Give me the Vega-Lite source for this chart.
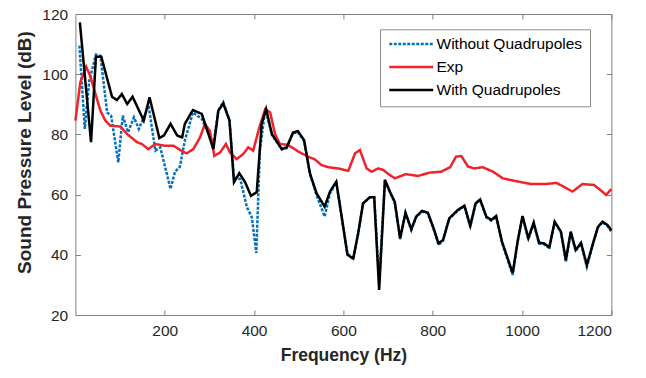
{
  "$schema": "https://vega.github.io/schema/vega-lite/v6.json",
  "width": 536,
  "height": 301,
  "autosize": {"type": "none"},
  "padding": {"left": 75.4, "top": 14, "right": 34.6, "bottom": 63},
  "background": "white",
  "config": {"view": {"stroke": null}, "font": "Liberation Sans"},
  "datasets": {
    "w": [
      {"f":9,"db":109.5},{"f":21,"db":81.8},{"f":31,"db":97.8},{"f":46,"db":106.5},{"f":56,"db":106.1},{"f":71,"db":87.3},{"f":80,"db":86.2},{"f":96,"db":70.7},{"f":106,"db":86.2},{"f":118,"db":80.7},{"f":131,"db":85.7},{"f":142,"db":81.8},{"f":164,"db":89.5},{"f":179,"db":74.6},{"f":190,"db":75.7},{"f":213,"db":61.9},{"f":223,"db":67.6},{"f":234,"db":69.3},{"f":245,"db":77.9},{"f":263,"db":87.3},{"f":283,"db":85.1},{"f":309,"db":76.8},{"f":320,"db":87.9},{"f":331,"db":90.7},{"f":345,"db":84.6},{"f":355,"db":65.7},{"f":369,"db":65.2},{"f":384,"db":55.8},{"f":395,"db":52.5},{"f":405,"db":40.6},{"f":413,"db":74.6},{"f":425,"db":88.4},{"f":440,"db":79.8},{"f":462,"db":75.1},{"f":473,"db":75.4},{"f":487,"db":80.3},{"f":498,"db":80.8},{"f":512,"db":77.8},{"f":525,"db":66.8},{"f":540,"db":59.8},{"f":558,"db":52.7},{"f":570,"db":60.5},{"f":584,"db":64},{"f":595,"db":53.5},{"f":609,"db":40.5},{"f":622,"db":38.5},{"f":633,"db":47},{"f":644,"db":57},{"f":659,"db":59},{"f":669,"db":59},{"f":680,"db":31},{"f":693,"db":64.8},{"f":704,"db":60.8},{"f":715,"db":57.3},{"f":727,"db":45.2},{"f":739,"db":53.8},{"f":752,"db":48.2},{"f":763,"db":52.5},{"f":776,"db":54.4},{"f":789,"db":53.8},{"f":802,"db":48.5},{"f":813,"db":43.3},{"f":823,"db":44.7},{"f":837,"db":52},{"f":856,"db":54.6},{"f":871,"db":56.2},{"f":884,"db":49.3},{"f":896,"db":57},{"f":906,"db":58.2},{"f":920,"db":52.4},{"f":931,"db":51.3},{"f":942,"db":52.6},{"f":955,"db":44},{"f":979,"db":33.3},{"f":990,"db":44.2},{"f":1001,"db":52.7},{"f":1014,"db":45.2},{"f":1026,"db":50.5},{"f":1038,"db":43.7},{"f":1049,"db":43.5},{"f":1061,"db":42.2},{"f":1073,"db":50.8},{"f":1087,"db":47.5},{"f":1098,"db":37.6},{"f":1109,"db":47.5},{"f":1120,"db":41.3},{"f":1132,"db":43.7},{"f":1145,"db":36},{"f":1160,"db":44.2},{"f":1170,"db":49.1},{"f":1180,"db":50.8},{"f":1191,"db":49.6},{"f":1200,"db":47.6}
    ],
    "e": [
      {"f":0,"db":84.6},{"f":11,"db":97.3},{"f":24,"db":102.5},{"f":33,"db":99.5},{"f":45,"db":93.4},{"f":56,"db":87.9},{"f":67,"db":84.6},{"f":78,"db":82.9},{"f":101,"db":82.6},{"f":116,"db":80.1},{"f":138,"db":77.4},{"f":149,"db":76.8},{"f":163,"db":75.1},{"f":179,"db":76.8},{"f":201,"db":76.2},{"f":220,"db":76.2},{"f":239,"db":74.4},{"f":249,"db":73.7},{"f":264,"db":75.1},{"f":279,"db":79},{"f":290,"db":83.5},{"f":301,"db":81.2},{"f":311,"db":72.9},{"f":324,"db":74},{"f":337,"db":76.8},{"f":346,"db":74},{"f":361,"db":71.8},{"f":376,"db":73.5},{"f":387,"db":75.7},{"f":398,"db":74.6},{"f":412,"db":82.4},{"f":425,"db":88.4},{"f":436,"db":87.3},{"f":447,"db":80.1},{"f":458,"db":76.8},{"f":473,"db":76.6},{"f":487,"db":75.5},{"f":499,"db":74.3},{"f":521,"db":72.6},{"f":536,"db":71.7},{"f":551,"db":69.8},{"f":566,"db":69.1},{"f":588,"db":68.7},{"f":611,"db":67.9},{"f":626,"db":73.7},{"f":637,"db":74.8},{"f":652,"db":68.7},{"f":663,"db":67.6},{"f":678,"db":68.7},{"f":689,"db":68.2},{"f":704,"db":66.5},{"f":715,"db":65.4},{"f":740,"db":66.8},{"f":767,"db":66.2},{"f":793,"db":67.3},{"f":819,"db":67.6},{"f":839,"db":69.1},{"f":852,"db":72.6},{"f":864,"db":72.8},{"f":879,"db":69.3},{"f":893,"db":68.7},{"f":912,"db":69.1},{"f":935,"db":67.6},{"f":957,"db":65.4},{"f":982,"db":64.6},{"f":1020,"db":63.5},{"f":1053,"db":63.5},{"f":1076,"db":63.9},{"f":1090,"db":62.9},{"f":1113,"db":61},{"f":1135,"db":63.5},{"f":1161,"db":63.2},{"f":1173,"db":61.8},{"f":1188,"db":59.9},{"f":1200,"db":61.8}
    ],
    "q": [
      {"f":10,"db":117.2},{"f":35,"db":77.4},{"f":46,"db":105.8},{"f":58,"db":105.8},{"f":82,"db":92.5},{"f":93,"db":91.4},{"f":104,"db":93.4},{"f":116,"db":90.1},{"f":128,"db":92.5},{"f":153,"db":84.6},{"f":166,"db":92.3},{"f":188,"db":78.8},{"f":198,"db":79.6},{"f":213,"db":83.5},{"f":228,"db":79.6},{"f":239,"db":79},{"f":245,"db":83.5},{"f":263,"db":88.1},{"f":283,"db":86.8},{"f":309,"db":75.1},{"f":320,"db":87.9},{"f":331,"db":90.3},{"f":345,"db":84.6},{"f":355,"db":64.1},{"f":367,"db":67.1},{"f":380,"db":64.1},{"f":393,"db":59.6},{"f":406,"db":60.8},{"f":417,"db":83.5},{"f":427,"db":88.4},{"f":440,"db":80.1},{"f":462,"db":75.1},{"f":473,"db":75.7},{"f":487,"db":80.6},{"f":498,"db":81.1},{"f":512,"db":78.1},{"f":525,"db":67.1},{"f":540,"db":60.4},{"f":558,"db":56},{"f":570,"db":61},{"f":584,"db":64.3},{"f":595,"db":53.8},{"f":609,"db":40},{"f":622,"db":38.8},{"f":633,"db":47.1},{"f":644,"db":57.1},{"f":659,"db":59.1},{"f":669,"db":59.1},{"f":680,"db":28.3},{"f":693,"db":64.9},{"f":704,"db":61},{"f":715,"db":57.6},{"f":727,"db":45.5},{"f":739,"db":54},{"f":752,"db":48.5},{"f":763,"db":52.7},{"f":776,"db":54.6},{"f":789,"db":54},{"f":802,"db":48.8},{"f":813,"db":43.8},{"f":823,"db":44.9},{"f":837,"db":52.1},{"f":856,"db":54.9},{"f":871,"db":56.3},{"f":884,"db":49.6},{"f":896,"db":57.1},{"f":906,"db":58.4},{"f":920,"db":52.7},{"f":931,"db":51.6},{"f":942,"db":52.9},{"f":955,"db":44.4},{"f":979,"db":33.9},{"f":990,"db":44.4},{"f":1001,"db":52.9},{"f":1014,"db":45.5},{"f":1026,"db":50.7},{"f":1038,"db":44},{"f":1049,"db":43.8},{"f":1061,"db":42.5},{"f":1073,"db":51},{"f":1087,"db":47.7},{"f":1098,"db":38.3},{"f":1109,"db":47.7},{"f":1120,"db":41.6},{"f":1132,"db":44},{"f":1145,"db":36.6},{"f":1160,"db":44.4},{"f":1170,"db":49.3},{"f":1180,"db":51},{"f":1191,"db":49.9},{"f":1200,"db":48.2}
    ]
  },
  "layer": [
    {
      "encoding": {
        "x": {"field": "f", "type": "quantitative",
          "scale": {"domain": [0, 1200], "nice": false, "zero": false},
          "axis": {"values": [200, 400, 600, 800, 1000, 1200], "format": "d", "grid": false, "tickSize": -5, "labelPadding": 13,
            "domainColor": "#808080", "tickColor": "#808080", "labelFontSize": 15.5, "labelColor": "#262626",
            "labelFont": "Liberation Sans", "title": "Frequency (Hz)", "titleFont": "Liberation Sans",
            "titleFontSize": 17.5, "titleFontWeight": "bold", "titleColor": "#262626",
            "titleBaseline": "middle", "titleY": 40}},
        "y": {"field": "db", "type": "quantitative",
          "scale": {"domain": [20, 120], "nice": false, "zero": false},
          "axis": {"values": [20, 40, 60, 80, 100, 120], "grid": false, "tickSize": -5, "labelPadding": 12.7,
            "domainColor": "#808080", "tickColor": "#808080", "labelFontSize": 15.5, "labelColor": "#262626",
            "labelFont": "Liberation Sans", "title": "Sound Pressure Level (dB)", "titleFont": "Liberation Sans",
            "titleFontSize": 19, "titleFontWeight": "bold", "titleColor": "#262626",
            "titleBaseline": "middle", "titleAlign": "center", "titleAngle": -90, "titleX": -51, "titleY": 138}}
      },
      "layer": [
        {
          "data": {"name": "w"},
          "mark": {"type": "line", "strokeWidth": 2.5},
          "encoding": {
            "color": {"datum": "Without Quadrupoles", "type": "nominal",
              "scale": {"domain": ["Without Quadrupoles", "Exp", "With Quadrupoles"], "range": ["#0072BD", "#F0222A", "#000000"]},
              "legend": {"title": null, "orient": "none", "legendX": 304.6, "legendY": 15.3,
                "symbolType": "M-1,0H7", "symbolSize": 121, "symbolStrokeWidth": 2.5,
                "labelFontSize": 15.5, "labelFont": "Liberation Sans", "labelColor": "#000000", "labelOffset": 34,
                "padding": 7, "rowPadding": 6, "strokeColor": "#8c8c8c", "fillColor": "white"}},
            "strokeDash": {"datum": "Without Quadrupoles", "type": "nominal",
              "scale": {"domain": ["Without Quadrupoles", "Exp", "With Quadrupoles"], "range": [[3, 1.5], [1, 0], [1, 0]]},
              "legend": {"title": null, "orient": "none", "legendX": 304.6, "legendY": 15.3,
                "symbolType": "M-1,0H7", "symbolSize": 121, "symbolStrokeWidth": 2.5,
                "labelFontSize": 15.5, "labelFont": "Liberation Sans", "labelColor": "#000000", "labelOffset": 34,
                "padding": 7, "rowPadding": 6, "strokeColor": "#8c8c8c", "fillColor": "white"}}
          }
        },
        {
          "data": {"name": "e"},
          "mark": {"type": "line", "strokeWidth": 2.5},
          "encoding": {
            "color": {"datum": "Exp", "type": "nominal"},
            "strokeDash": {"datum": "Exp", "type": "nominal"}
          }
        },
        {
          "data": {"name": "q"},
          "mark": {"type": "line", "strokeWidth": 2.5},
          "encoding": {
            "color": {"datum": "With Quadrupoles", "type": "nominal"},
            "strokeDash": {"datum": "With Quadrupoles", "type": "nominal"}
          }
        }
      ]
    },
    {
      "data": {"name": "q"},
      "mark": {"type": "line", "opacity": 0},
      "encoding": {
        "x": {"field": "f", "type": "quantitative",
          "scale": {"domain": [0, 1200], "nice": false, "zero": false},
          "axis": {"orient": "top", "values": [200, 400, 600, 800, 1000, 1200], "grid": false, "tickSize": -5,
            "labels": false, "title": null, "domainColor": "#808080", "tickColor": "#808080"}},
        "y": {"field": "db", "type": "quantitative",
          "scale": {"domain": [20, 120], "nice": false, "zero": false},
          "axis": {"orient": "right", "values": [20, 40, 60, 80, 100, 120], "grid": false, "tickSize": -5,
            "labels": false, "title": null, "domainColor": "#808080", "tickColor": "#808080"}}
      }
    }
  ],
  "resolve": {"axis": {"x": "independent", "y": "independent"}}
}
